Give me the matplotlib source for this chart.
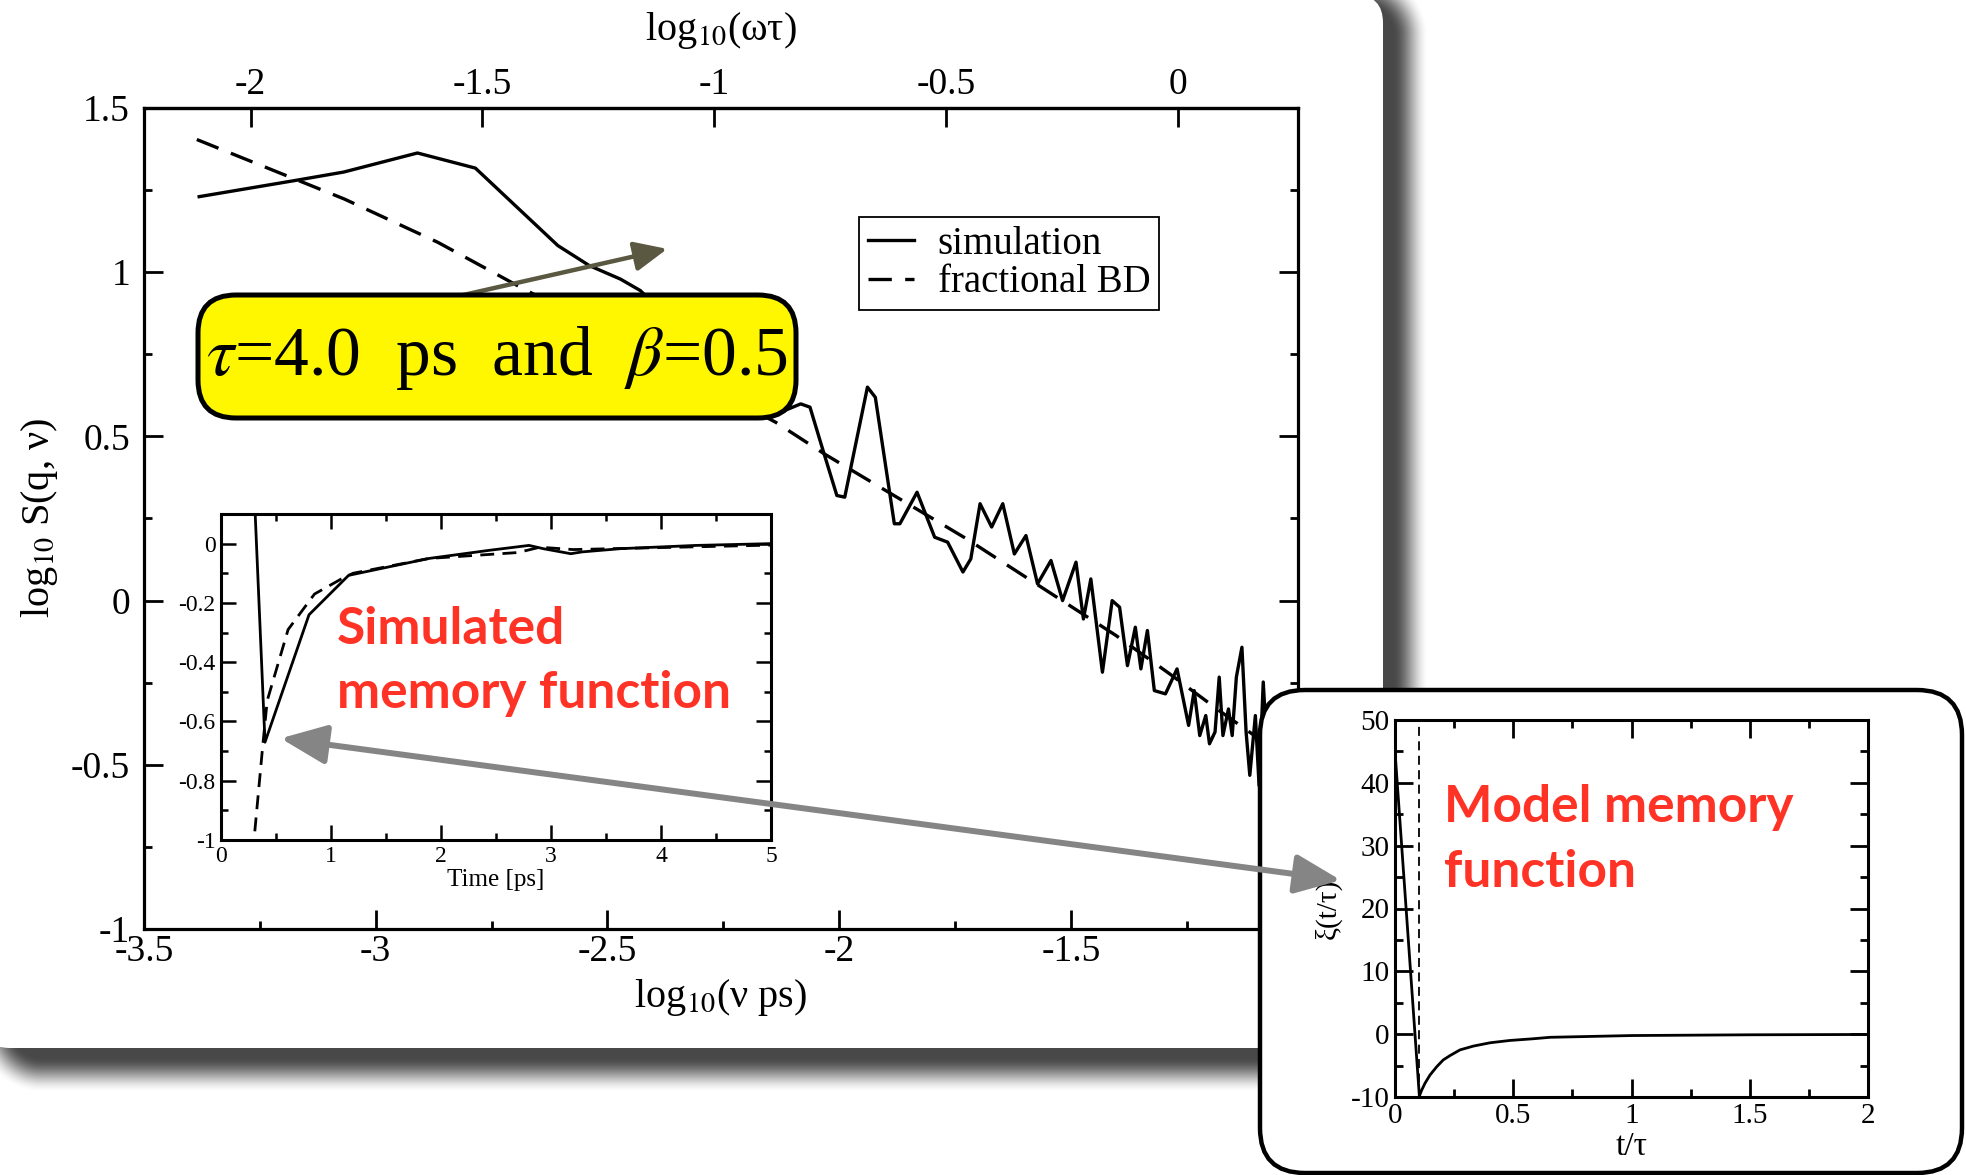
import numpy as np
import matplotlib.pyplot as plt
from matplotlib.patches import FancyBboxPatch, ConnectionPatch
from matplotlib.ticker import MultipleLocator, FuncFormatter

# ------------------------------------------------------------
# DATA
# ------------------------------------------------------------
# main panel: log10 S(q, nu) against log10(nu ps)
sim_x = [-3.381, -3.175, -3.069, -2.910, -2.785, -2.607, -2.539, -2.472, -2.429,
         -2.153, -2.083, -2.063, -2.038, -2.005, -1.988, -1.939, -1.922, -1.881,
         -1.869, -1.832, -1.794, -1.766, -1.733, -1.716, -1.696, -1.671, -1.647,
         -1.622, -1.597, -1.572, -1.543, -1.518, -1.489, -1.473, -1.457, -1.432,
         -1.411, -1.395, -1.378, -1.361, -1.349, -1.335, -1.320, -1.296, -1.271,
         -1.246, -1.234, -1.222, -1.209, -1.201, -1.189, -1.180, -1.172, -1.160,
         -1.152, -1.143, -1.131, -1.122, -1.114, -1.102, -1.094, -1.085, -1.075]
sim_y = [1.230, 1.279, 1.305, 1.363, 1.317, 1.081, 1.020, 0.979, 0.944,
         0.558, 0.599, 0.589, 0.472, 0.320, 0.315, 0.650, 0.619, 0.234,
         0.234, 0.330, 0.193, 0.178, 0.087, 0.127, 0.295, 0.224, 0.295,
         0.142, 0.198, 0.051, 0.122, 0.000, 0.117, -0.056, 0.066, -0.218,
         0.000, -0.020, -0.198, -0.081, -0.208, -0.091, -0.274, -0.284, -0.208,
         -0.380, -0.274, -0.411, -0.350, -0.436, -0.400, -0.233, -0.411, -0.330,
         -0.411, -0.233, -0.142, -0.400, -0.532, -0.350, -0.563, -0.248, -0.500]

frac_x = [-3.386, -3.068, -2.866, -2.694, -2.137, -2.030, -1.725, -1.403, -1.287, -1.180, -1.100]
frac_y = [1.404, 1.223, 1.091, 0.959, 0.543, 0.445, 0.188, -0.106, -0.223, -0.335, -0.415]

OMEGA_TAU_SHIFT = 1.27   # log10(omega tau) = log10(nu ps) + shift

# inset: simulated memory function
mem_t = [0.305, 0.40, 0.80, 1.16, 1.89, 2.45, 2.80, 2.93, 3.18, 3.28, 3.63, 4.32, 5.0]
mem_sim = [0.15, -0.67, -0.24, -0.107, -0.05, -0.022, -0.006, -0.017, -0.034, -0.028,
           -0.017, -0.006, 0.0]
fit_t = [0.27, 0.30, 0.38, 0.42, 0.61, 0.85, 1.09, 1.20, 1.89, 2.70, 2.90, 3.20, 5.0]
fit_mem = [-1.12, -1.0, -0.68, -0.53, -0.29, -0.17, -0.12, -0.10, -0.05, -0.03,
           -0.012, -0.02, -0.005]

# right panel: model memory function xi(t/tau)
xi_t = [0.0, 0.103, 0.113, 0.127, 0.148, 0.176, 0.204, 0.233, 0.275, 0.331,
        0.402, 0.486, 0.585, 0.655, 1.0, 1.5, 2.0]
xi_val = [45.0, -9.85, -8.9, -7.8, -6.5, -5.2, -4.1, -3.4, -2.5, -1.9,
          -1.37, -1.0, -0.73, -0.5, -0.22, -0.1, -0.05]
xi_cut = 0.1

# ------------------------------------------------------------
# SETUP
# ------------------------------------------------------------
W, H = 1966, 1175
plt.rcParams['font.family'] = ['Liberation Serif', 'DejaVu Serif']
plt.rcParams['mathtext.fontset'] = 'stix'
plt.rcParams['axes.unicode_minus'] = False

RED = '#fe3326'
RED_FONT = dict(family=['Lato', 'DejaVu Sans'], weight='bold', color=RED)


def fmt(v, pos):
    v = round(v, 3)
    if v == 0:
        return "0"
    return f"{v:g}"


def style_ticks(ax, size, major_len, minor_len, width, pad):
    ax.tick_params(which='both', direction='in', top=True, right=True,
                   width=width, labelsize=size, pad=pad)
    ax.tick_params(which='major', length=major_len)
    ax.tick_params(which='minor', length=minor_len)
    ax.xaxis.set_major_formatter(FuncFormatter(fmt))
    ax.yaxis.set_major_formatter(FuncFormatter(fmt))


def px_rect(x0, y0, x1, y1):
    # pixel box (top-left origin) -> figure fraction rect
    return [x0 / W, 1 - y1 / H, (x1 - x0) / W, (y1 - y0) / H]


fig = plt.figure(figsize=(W / 100, H / 100), dpi=100)

# background layer: soft shadow + white slide panel
bg = fig.add_axes([0, 0, 1, 1], zorder=0)
bg.set_xlim(0, W)
bg.set_ylim(H, 0)
bg.axis('off')

yy, xx = np.mgrid[0:H, 0:W] + 0.5


def rrect_dist(x0, y0, x1, y1, r):
    cx, cy = (x0 + x1) / 2, (y0 + y1) / 2
    qx = np.abs(xx - cx) - ((x1 - x0) / 2 - r)
    qy = np.abs(yy - cy) - ((y1 - y0) / 2 - r)
    out = np.hypot(np.maximum(qx, 0), np.maximum(qy, 0))
    ins = np.minimum(np.maximum(qx, qy), 0)
    return out + ins - r


d = rrect_dist(12, 6, 1393, 1057, 30)
t = np.clip(d / 36, 0, 1)
shadow = np.zeros((H, W, 4))
shadow[..., 3] = 0.72 * (1 - t * t * (3 - 2 * t))
bg.imshow(shadow, extent=(0, W, H, 0), aspect='auto', interpolation='bilinear')
bg.add_patch(FancyBboxPatch((-18, -5), 1383 + 18, 1048 + 5,
                            boxstyle='round,pad=0,rounding_size=28',
                            fc='white', ec='none'))

# ------------------------------------------------------------
# MAIN PLOT
# ------------------------------------------------------------
ax = fig.add_axes(px_rect(144, 108, 1298, 929), zorder=1)
ax.set_facecolor('none')
ax.plot(sim_x, sim_y, color='black', lw=2.4, label='simulation')
ax.plot(frac_x, frac_y, color='black', lw=2.4, dashes=(7, 4), label='fractional BD')
ax.set_xlim(-3.5, -1.01)
ax.set_ylim(-1, 1.5)
ax.xaxis.set_major_locator(MultipleLocator(0.5))
ax.xaxis.set_minor_locator(MultipleLocator(0.25))
ax.yaxis.set_major_locator(MultipleLocator(0.5))
ax.yaxis.set_minor_locator(MultipleLocator(0.25))
style_ticks(ax, 27, 14, 6, 2.0, 4)
ax.tick_params(axis='y', pad=10)
ax.tick_params(which='both', top=False)
for s in ax.spines.values():
    s.set_linewidth(2.3)
ax.set_xlabel(r'log$_{10}$(ν ps)', fontsize=29, labelpad=6)
ax.set_ylabel(r'log$_{10}$ S(q, ν)', fontsize=29, labelpad=8)

secax = ax.secondary_xaxis('top', functions=(lambda v: v + OMEGA_TAU_SHIFT,
                                              lambda v: v - OMEGA_TAU_SHIFT))
secax.xaxis.set_major_locator(MultipleLocator(0.5))
secax.xaxis.set_major_formatter(FuncFormatter(fmt))
secax.tick_params(direction='in', length=14, width=2.0, labelsize=27, pad=4)
secax.spines['top'].set_linewidth(2.3)
secax.set_xlabel(r'log$_{10}$(ωτ)', fontsize=29, labelpad=20)

leg = ax.legend(loc='upper left', bbox_to_anchor=(859 / W, 1 - 217 / H),
                bbox_transform=fig.transFigure, borderaxespad=0, fontsize=28,
                handlelength=1.2, handletextpad=0.6, labelspacing=0.05,
                borderpad=0.22, fancybox=False, framealpha=1, edgecolor='black')
leg.get_frame().set_linewidth(1.3)

ax.annotate('', xy=(-2.371, 1.071), xytext=(-2.819, 0.928),
            arrowprops=dict(arrowstyle='-|>,head_length=1.0,head_width=0.45',
                            mutation_scale=20, lw=3.2, color='#5a5840',
                            shrinkA=0, shrinkB=0),
            annotation_clip=False, zorder=5)

# ------------------------------------------------------------
# INSET: simulated memory function
# ------------------------------------------------------------
ax_in = fig.add_axes(px_rect(221, 514, 771, 840), zorder=2)
ax_in.plot(mem_t, mem_sim, color='black', lw=2.0)
ax_in.plot(fit_t, fit_mem, color='black', lw=2.0, dashes=(5, 3))
ax_in.set_xlim(0, 5)
ax_in.set_ylim(-1, 0.1)
ax_in.xaxis.set_major_locator(MultipleLocator(1))
ax_in.xaxis.set_minor_locator(MultipleLocator(0.5))
ax_in.yaxis.set_major_locator(MultipleLocator(0.2))
ax_in.yaxis.set_minor_locator(MultipleLocator(0.1))
style_ticks(ax_in, 17, 11, 5, 1.8, 4)
for s in ax_in.spines.values():
    s.set_linewidth(2.2)
ax_in.set_xlabel('Time [ps]', fontsize=18, labelpad=2)

# ------------------------------------------------------------
# RIGHT PANEL: model memory function
# ------------------------------------------------------------
mid = fig.add_axes([0, 0, 1, 1], zorder=3)
mid.set_xlim(0, W)
mid.set_ylim(H, 0)
mid.axis('off')
mid.add_patch(FancyBboxPatch((1260, 690), 702, 483,
                             boxstyle='round,pad=0,rounding_size=45',
                             fc='white', ec='black', lw=3.2))

ax_r = fig.add_axes(px_rect(1395, 720, 1868, 1097), zorder=4)
ax_r.plot(xi_t, xi_val, color='black', lw=2.0)
ax_r.axvline(xi_cut, color='black', lw=1.3, dashes=(5, 3))
ax_r.set_xlim(0, 2)
ax_r.set_ylim(-10, 50)
ax_r.xaxis.set_major_locator(MultipleLocator(0.5))
ax_r.xaxis.set_minor_locator(MultipleLocator(0.25))
ax_r.yaxis.set_major_locator(MultipleLocator(10))
ax_r.yaxis.set_minor_locator(MultipleLocator(5))
style_ticks(ax_r, 21, 13, 6, 2.0, 4)
for s in ax_r.spines.values():
    s.set_linewidth(2.2)
ax_r.set_xlabel('t/τ', fontsize=24, labelpad=2)
ax_r.set_ylabel('ξ(t/τ)', fontsize=21, labelpad=6)

# ------------------------------------------------------------
# OVERLAY: callout box, red notes, connecting arrow
# ------------------------------------------------------------
ov = fig.add_axes([0, 0, 1, 1], zorder=5)
ov.set_xlim(0, W)
ov.set_ylim(H, 0)
ov.axis('off')
ov.add_patch(FancyBboxPatch((198, 295), 598, 123,
                            boxstyle='round,pad=0,rounding_size=38',
                            fc='#fff700', ec='black', lw=3.6))
ov.text(497, 358, r'$\tau$=4.0  ps  and  $\beta$=0.5', fontsize=50,
        ha='center', va='center')

ov.text(337, 644, 'Simulated', fontsize=37, va='baseline', ha='left', **RED_FONT)
ov.text(337, 708, 'memory function', fontsize=37, va='baseline', ha='left', **RED_FONT)
ov.text(1444, 822, 'Model memory', fontsize=37, va='baseline', ha='left', **RED_FONT)
ov.text(1444, 887, 'function', fontsize=37, va='baseline', ha='left', **RED_FONT)

con = ConnectionPatch(xyA=(0.542, -0.657), coordsA=ax_in.transData,
                      xyB=(-0.229, 24.5), coordsB=ax_r.transData,
                      arrowstyle='<|-|>,head_length=1.4,head_width=0.6',
                      mutation_scale=20, lw=4.3, color='#858585',
                      shrinkA=0, shrinkB=0, zorder=10)
fig.add_artist(con)

fig.savefig('out.png', dpi=100)
